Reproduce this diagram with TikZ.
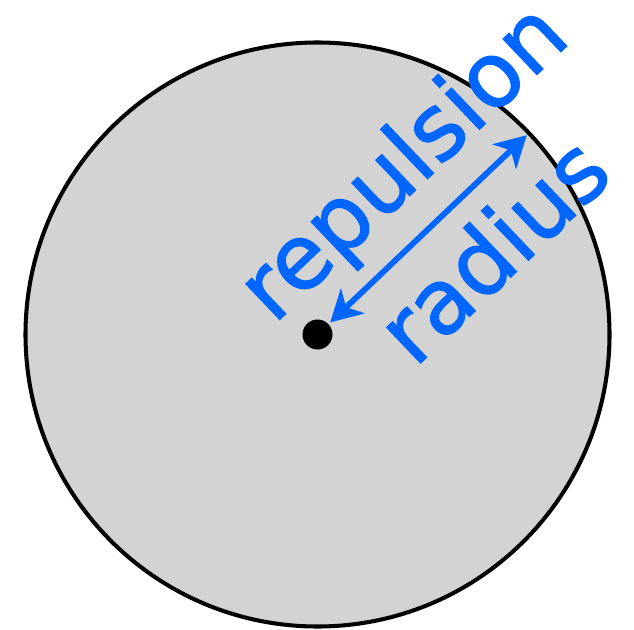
\documentclass[tikz,border=0pt]{standalone}
\usepackage{fontspec}
\setmainfont{DejaVu Sans}
\newfontfamily\lblfont{DejaVu Sans}[FakeBold=1.5]
\usetikzlibrary{arrows.meta,calc}
\definecolor{repblue}{HTML}{0066FF}
\definecolor{discgray}{HTML}{D3D3D3}

\begin{document}
\begin{tikzpicture}[
    disc/.style={circle,draw=black,fill=discgray,line width=2.3pt,
                 minimum size=11.68cm,inner sep=0pt},
    centre/.style={circle,fill=black,minimum size=0.6cm,inner sep=0pt,outer sep=0.05cm},
    arr/.style={{Stealth[length=0.62cm,width=0.68cm,inset=0.18cm]}-{Stealth[length=0.62cm,width=0.68cm,inset=0.18cm]},
                repblue,line width=3.3pt},
    lbl/.style={font=\lblfont\fontsize{51}{58}\selectfont,text=repblue,rotate=43.6,anchor=base,inner sep=0pt},
  ]
  \useasboundingbox (0,0) rectangle (12.68,12.58);
  \node[disc]   (rep) at (6.35,5.89) {};
  \node[centre] (ctr) at (6.35,5.89) {};
  \coordinate (rim) at ($(ctr)+(43.6:5.78)$);

  \draw[arr] (ctr)--(rim);

  \node[lbl] (top) at (8.46,8.92) {repulsion};
  \node[lbl] (bot) at (10.30,7.12) {radius};
\end{tikzpicture}
\end{document}
